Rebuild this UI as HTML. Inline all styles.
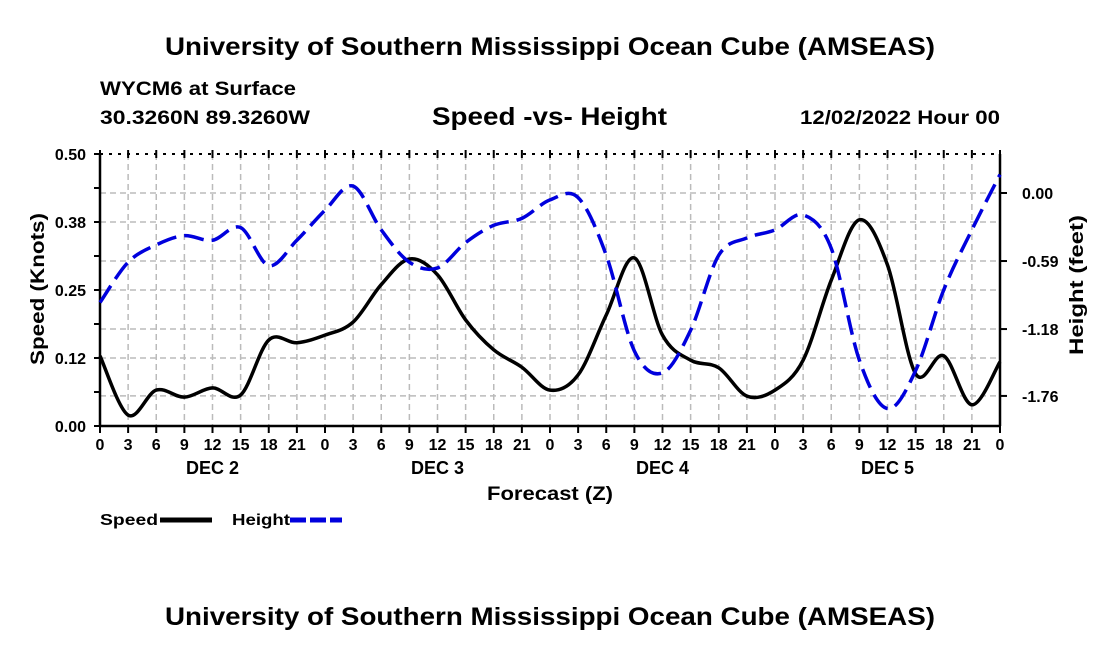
<!DOCTYPE html>
<html><head><meta charset="utf-8"><style>
body{margin:0;background:#fff;width:1100px;height:650px;overflow:hidden;font-family:"Liberation Sans",sans-serif}
</style></head><body>
<svg id="c" width="1100" height="650" xmlns="http://www.w3.org/2000/svg" font-family="Liberation Sans, sans-serif" font-weight="bold">
<text x="550" y="55" text-anchor="middle" font-size="25" textLength="770" lengthAdjust="spacingAndGlyphs">University of Southern Mississippi Ocean Cube (AMSEAS)</text>
<text x="100" y="95" font-size="19" textLength="196" lengthAdjust="spacingAndGlyphs">WYCM6 at Surface</text>
<text x="100" y="124" font-size="19" textLength="210" lengthAdjust="spacingAndGlyphs">30.3260N  89.3260W</text>
<text x="432" y="125" font-size="25" textLength="235" lengthAdjust="spacingAndGlyphs">Speed -vs- Height</text>
<text x="800" y="124" font-size="19" textLength="200" lengthAdjust="spacingAndGlyphs">12/02/2022 Hour 00</text>
<text x="550" y="625" text-anchor="middle" font-size="25" textLength="770" lengthAdjust="spacingAndGlyphs">University of Southern Mississippi Ocean Cube (AMSEAS)</text>
<g id="grid"></g><g id="axes"></g><g id="series"></g>
<text x="487" y="500" font-size="19" textLength="126" lengthAdjust="spacingAndGlyphs">Forecast (Z)</text>
<text transform="translate(44,365) rotate(-90)" font-size="19" textLength="152" lengthAdjust="spacingAndGlyphs">Speed (Knots)</text>
<text transform="translate(1082,214) rotate(90)" font-size="19" textLength="140" lengthAdjust="spacingAndGlyphs" style="display:none">Height (feet)</text>
<text transform="translate(1083,355) rotate(-90)" font-size="19" textLength="140" lengthAdjust="spacingAndGlyphs">Height (feet)</text>
<g>
<text x="100" y="525" font-size="16" textLength="58" lengthAdjust="spacingAndGlyphs">Speed</text>
<line x1="160" y1="520" x2="212" y2="520" stroke="#000" stroke-width="5"/>
<text x="232" y="525" font-size="16" textLength="58" lengthAdjust="spacingAndGlyphs">Height</text>
<line x1="290" y1="520" x2="342" y2="520" stroke="#0000dd" stroke-width="5" stroke-dasharray="16,4"/>
</g>
</svg>
<script>
const hours=[0,3,6,9,12,15,18,21,24,27,30,33,36,39,42,45,48,51,54,57,60,63,66,69,72,75,78,81,84,87,90,93,96];
const speed=[0.129,0.02,0.066,0.053,0.07,0.057,0.158,0.153,0.167,0.191,0.26,0.307,0.278,0.195,0.14,0.108,0.066,0.094,0.204,0.309,0.167,0.121,0.107,0.055,0.066,0.121,0.268,0.379,0.296,0.096,0.129,0.039,0.118];
const height=[-0.95,-0.6,-0.45,-0.37,-0.41,-0.3,-0.63,-0.41,-0.15,0.06,-0.32,-0.6,-0.65,-0.43,-0.28,-0.22,-0.06,-0.04,-0.54,-1.37,-1.56,-1.19,-0.54,-0.39,-0.32,-0.19,-0.48,-1.45,-1.87,-1.54,-0.84,-0.32,0.16];
const leftTicks=[0,0.125,0.25,0.375,0.5];
const leftLabels=["0.00","0.12","0.25","0.38","0.50"];
const rightTicks=[0,-0.59,-1.18,-1.76];
const rightLabels=["0.00","-0.59","-1.18","-1.76"];
const dayLabels=["DEC 2","DEC 3","DEC 4","DEC 5"];
const X0=100,X1=1000,Y0=426,Y1=154;
const xs=h=>X0+(h/96)*(X1-X0);
const ys=v=>Y0-(v/0.5)*(Y0-Y1);
const yh=v=>193-v*115.3;
const NS="http://www.w3.org/2000/svg";
function mk(p,t,a){const e=document.createElementNS(NS,t);for(const k in a)e.setAttribute(k,a[k]);document.getElementById(p).appendChild(e);return e;}
hours.forEach(h=>{if(h>0&&h<96){const l=mk('grid','line',{x1:xs(h),x2:xs(h),y1:Y1,y2:Y0,stroke:'#bbb','stroke-width':1.5,'stroke-dasharray':'6,4'});

}});
leftTicks.forEach(v=>{if(v>0&&v<0.5){const l=mk('grid','line',{x1:X0,x2:X1,y1:ys(v),y2:ys(v),stroke:'#bbb','stroke-width':1.5,'stroke-dasharray':'6,4'});

}});
rightTicks.forEach(v=>{const l=mk('grid','line',{x1:X0,x2:X1,y1:yh(v),y2:yh(v),stroke:'#bbb','stroke-width':1.5,'stroke-dasharray':'6,4'});

});
let a=mk('axes','line',{x1:X0,x2:X0,y1:Y1,y2:Y0,stroke:'#000','stroke-width':2.5});


a=mk('axes','line',{x1:X1,x2:X1,y1:Y1,y2:Y0,stroke:'#000','stroke-width':2.5});


a=mk('axes','line',{x1:X0,x2:X1,y1:Y0,y2:Y0,stroke:'#000','stroke-width':2.5});


a=mk('axes','line',{x1:X0,x2:X1,y1:Y1,y2:Y1,stroke:'#000','stroke-width':2,'stroke-dasharray':'3,6'});


for(let v=0;v<=0.5001;v+=0.0625){mk('axes','line',{x1:X0-6,x2:X0,y1:ys(v),y2:ys(v),stroke:'#000','stroke-width':2});}
leftTicks.forEach((v,i)=>{const t=mk('axes','text',{x:X0-14,y:ys(v)+6,'text-anchor':'end','font-size':16});t.textContent=leftLabels[i];

});
rightTicks.forEach((v,i)=>{mk('axes','line',{x1:X1,x2:X1+7,y1:yh(v),y2:yh(v),stroke:'#000','stroke-width':2});
const t=mk('axes','text',{x:X1+22,y:yh(v)+6,'font-size':16});t.textContent=rightLabels[i];

});
hours.forEach(h=>{mk('axes','line',{x1:xs(h),x2:xs(h),y1:Y0,y2:Y0+7,stroke:'#000','stroke-width':2});
mk('axes','line',{x1:xs(h),x2:xs(h),y1:Y1-4,y2:Y1+4,stroke:'#000','stroke-width':2});
const t=mk('axes','text',{x:xs(h),y:Y0+24,'text-anchor':'middle','font-size':16});t.textContent=String(h%24);

});
dayLabels.forEach((d,i)=>{const t=mk('axes','text',{x:xs(12+24*i),y:Y0+48,'text-anchor':'middle','font-size':18});t.textContent=d;

});
function path(px,py){let d=`M${px[0]},${py[0]}`;for(let i=0;i<px.length-1;i++){const p0=i?i-1:i,p3=i+2<px.length?i+2:i+1;
d+=` C${px[i]+(px[i+1]-px[p0])/6},${py[i]+(py[i+1]-py[p0])/6} ${px[i+1]-(px[p3]-px[i])/6},${py[i+1]-(py[p3]-py[i])/6} ${px[i+1]},${py[i+1]}`;}return d;}
const px=hours.map(xs);
let s=mk('series','path',{d:path(px,speed.map(ys)),fill:'none',stroke:'#000','stroke-width':3.5});


s=mk('series','path',{d:path(px,height.map(yh)),fill:'none',stroke:'#0000dd','stroke-width':3.5,'stroke-dasharray':'20,8'});


</script>
</body></html>
